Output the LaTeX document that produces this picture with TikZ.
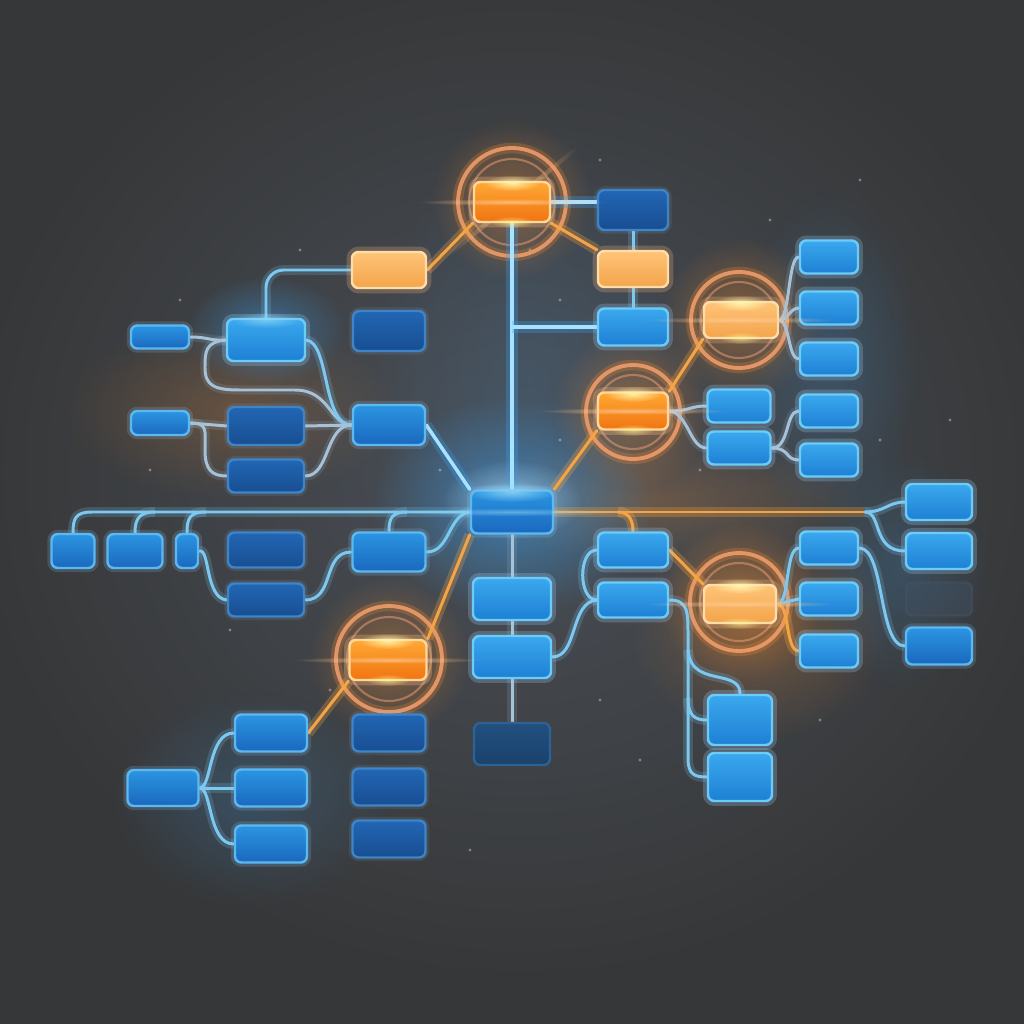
\documentclass[tikz,border=0pt]{standalone}
\usetikzlibrary{fadings,calc}
\definecolor{bgA}{HTML}{363738}
\definecolor{bgB}{HTML}{4A5058}
\definecolor{bT}{HTML}{2B95E2}
\definecolor{bB}{HTML}{1A68BE}
\definecolor{bdB}{HTML}{5CB8F0}
\definecolor{cT}{HTML}{3AA8EE}
\definecolor{cB}{HTML}{1E80D4}
\definecolor{bdC}{HTML}{6CCCF8}
\definecolor{dT}{HTML}{2266B4}
\definecolor{dB}{HTML}{184E92}
\definecolor{bdD}{HTML}{3E84C6}
\definecolor{vT}{HTML}{21507F}
\definecolor{vB}{HTML}{1B416C}
\definecolor{bdV}{HTML}{2F6294}
\definecolor{oT}{HTML}{FFA834}
\definecolor{oB}{HTML}{F07412}
\definecolor{bdO}{HTML}{FFD898}
\definecolor{lT}{HTML}{FFC478}
\definecolor{lB}{HTML}{F3A44A}
\definecolor{bdL}{HTML}{FFDDA8}
\definecolor{lnB}{HTML}{7CC8F0}
\definecolor{lnG}{HTML}{A6C2D8}
\definecolor{lnO}{HTML}{F5A445}
\definecolor{lnW}{HTML}{A8E2FF}
\definecolor{glowB}{HTML}{3AA0F0}
\definecolor{glowO}{HTML}{F08A30}
\definecolor{ringO}{HTML}{F3A070}
\tikzfading[name=fuzzy, inner color=transparent!0, outer color=transparent!100]
\pgfdeclarelayer{bg}
\pgfdeclarelayer{lines}
\pgfdeclarelayer{fx}
\pgfsetlayers{bg,lines,main,fx}
\begin{document}
\begin{tikzpicture}[x=0.1mm,y=-0.1mm,
  box/.style={rectangle, rounded corners=1.8pt, inner sep=0pt, line width=0.7pt},
  blu/.style={box, draw=bdB, top color=bT, bottom color=bB, preaction={draw=glowB!55!white, line width=2.4pt, opacity=0.18}},
  brt/.style={box, draw=bdC, top color=cT, bottom color=cB, preaction={draw=glowB!50!white, line width=2.8pt, opacity=0.25}},
  dk/.style={box, draw=bdD, top color=dT, bottom color=dB, preaction={draw=glowB!50!white, line width=2pt, opacity=0.1}},
  vdk/.style={box, draw=bdV, top color=vT, bottom color=vB},
  fad/.style={box, draw=bgB!80!bdV, top color=bgB!70!vT, bottom color=bgB!80!vB, opacity=0.5},
  org/.style={box, draw=bdO, top color=oT, bottom color=oB, preaction={draw=glowO!60!white, line width=3pt, opacity=0.3}},
  orl/.style={box, draw=bdL, top color=lT, bottom color=lB, preaction={draw=glowO!60!white, line width=3pt, opacity=0.25}},
  ln/.style={draw=lnB, line width=0.85pt, line cap=round, preaction={draw=lnB, line width=2.8pt, opacity=0.2}},
  lg/.style={draw=lnG, line width=0.85pt, line cap=round, preaction={draw=lnG, line width=2.6pt, opacity=0.15}},
  lw/.style={draw=lnW, line width=1pt, line cap=round, preaction={draw=glowB, line width=3.2pt, opacity=0.3}},
  lo/.style={draw=lnO, line width=0.85pt, line cap=round, preaction={draw=lnO, line width=3pt, opacity=0.28}},
  ring/.style={draw=ringO, line width=1.1pt, opacity=0.85, preaction={draw=glowO, line width=3pt, opacity=0.25}},
  iring/.style={draw=ringO, line width=0.6pt, opacity=0.5},
  star/.style={fill=white, opacity=0.35}
]
\useasboundingbox (0,0) rectangle (1024,1024);

% ---------- nodes ----------
\node[org, minimum width=7.6mm, minimum height=4mm] (t) at (512,202) {};
\node[dk, minimum width=7mm, minimum height=4mm] (tr1) at (633,210) {};
\node[orl, minimum width=7mm, minimum height=3.6mm] (o1) at (633,269) {};
\node[brt, minimum width=7mm, minimum height=3.7mm] (b1) at (633,327) {};
\node[orl, minimum width=7.4mm, minimum height=3.6mm] (o2) at (389,270) {};
\node[brt, minimum width=7.8mm, minimum height=4.2mm] (l1) at (266,340) {};
\node[dk, minimum width=7.2mm, minimum height=4mm] (d0) at (389,331) {};
\node[blu, minimum width=5.8mm, minimum height=2.3mm] (l0) at (160,337) {};
\node[blu, minimum width=7.2mm, minimum height=4mm] (m1) at (389,425) {};
\node[blu, minimum width=5.8mm, minimum height=2.4mm] (l2) at (160,423) {};
\node[dk, minimum width=7.6mm, minimum height=3.8mm] (l3) at (266,426) {};
\node[dk, minimum width=7.6mm, minimum height=3.3mm] (l4) at (266,476) {};
\node[blu, minimum width=8.2mm, minimum height=4.3mm] (c) at (512,512) {};
\node[orl, minimum width=7.4mm, minimum height=3.6mm] (o3) at (741,320) {};
\node[org, minimum width=7mm, minimum height=3.7mm] (o4) at (633,411) {};
\node[brt, minimum width=5.8mm, minimum height=3.3mm] (r1) at (829,257) {};
\node[brt, minimum width=5.8mm, minimum height=3.3mm] (r2) at (829,308) {};
\node[brt, minimum width=5.8mm, minimum height=3.3mm] (r3) at (829,359) {};
\node[brt, minimum width=5.8mm, minimum height=3.3mm] (r4) at (829,411) {};
\node[brt, minimum width=5.8mm, minimum height=3.3mm] (r5) at (829,460) {};
\node[brt, minimum width=6.3mm, minimum height=3.3mm] (m2a) at (739,406) {};
\node[brt, minimum width=6.3mm, minimum height=3.3mm] (m2b) at (739,448) {};
\node[blu, minimum width=4.3mm, minimum height=3.4mm] (bl1) at (73,551) {};
\node[blu, minimum width=5.5mm, minimum height=3.4mm] (bl2) at (135,551) {};
\node[blu, minimum width=2.2mm, minimum height=3.4mm] (bl3) at (187,551) {};
\node[dk, minimum width=7.6mm, minimum height=3.5mm] (bl4) at (266,550) {};
\node[dk, minimum width=7.6mm, minimum height=3.3mm] (bl5) at (266,600) {};
\node[blu, minimum width=7.3mm, minimum height=3.9mm] (m3) at (389,552) {};
\node[org, minimum width=7.7mm, minimum height=4mm] (o5) at (388,660) {};
\node[blu, minimum width=7.2mm, minimum height=3.7mm] (bl6) at (271,733) {};
\node[blu, minimum width=7.2mm, minimum height=3.7mm] (bl7) at (271,788) {};
\node[blu, minimum width=7.2mm, minimum height=3.7mm] (bl8) at (271,844) {};
\node[blu, minimum width=7.1mm, minimum height=3.6mm] (bl9) at (163,788) {};
\node[dk, minimum width=7.3mm, minimum height=3.7mm] (d1) at (389,733) {};
\node[dk, minimum width=7.3mm, minimum height=3.7mm] (d2) at (389,787) {};
\node[dk, minimum width=7.3mm, minimum height=3.7mm] (d3) at (389,839) {};
\node[brt, minimum width=7.8mm, minimum height=4.2mm] (c1) at (512,599) {};
\node[brt, minimum width=7.8mm, minimum height=4.2mm] (c2) at (512,657) {};
\node[vdk, minimum width=7.6mm, minimum height=4.2mm] (dc) at (512,744) {};
\node[brt, minimum width=7mm, minimum height=3.5mm] (cr1) at (633,550) {};
\node[brt, minimum width=7mm, minimum height=3.5mm] (cr2) at (633,600) {};
\node[orl, minimum width=7.2mm, minimum height=3.8mm] (o6) at (740,604) {};
\node[brt, minimum width=5.8mm, minimum height=3.3mm] (rc1) at (829,548) {};
\node[brt, minimum width=5.8mm, minimum height=3.3mm] (rc2) at (829,599) {};
\node[brt, minimum width=5.8mm, minimum height=3.3mm] (rc3) at (829,651) {};
\node[brt, minimum width=6.6mm, minimum height=3.6mm] (rr1) at (939,502) {};
\node[brt, minimum width=6.6mm, minimum height=3.6mm] (rr2) at (939,551) {};
\node[fad, minimum width=6.6mm, minimum height=3.3mm] (rr3) at (939,599) {};
\node[blu, minimum width=6.6mm, minimum height=3.7mm] (rr4) at (939,646) {};
\node[brt, minimum width=6.4mm, minimum height=5mm] (bra) at (740,720) {};
\node[brt, minimum width=6.4mm, minimum height=4.8mm] (brb) at (740,777) {};

% ---------- background and glows ----------
\begin{pgfonlayer}{bg}
\fill[bgA] (0,0) rectangle (1024,1024);
\fill[bgB, path fading=fuzzy] (520,470) ellipse (560 and 520);
\fill[bgB!70!glowB, opacity=0.35, path fading=fuzzy] (530,380) ellipse (160 and 260);
\fill[glowO, opacity=0.22, path fading=fuzzy] (230,410) ellipse (170 and 90);
\fill[glowO, opacity=0.22, path fading=fuzzy] (650,500) ellipse (220 and 60);
\fill[glowO, opacity=0.28, path fading=fuzzy] (760,630) ellipse (130 and 110);
\fill[glowB, opacity=0.2, path fading=fuzzy] (830,360) ellipse (90 and 170);
\fill[glowB, opacity=0.18, path fading=fuzzy] (900,570) ellipse (90 and 120);
\fill[glowB, opacity=0.2, path fading=fuzzy] (250,800) ellipse (140 and 110);
\fill[glowB, opacity=0.55, path fading=fuzzy] (512,505) ellipse (140 and 110);
\fill[glowB!40!white, opacity=0.6, path fading=fuzzy] (512,500) ellipse (70 and 40);
\fill[glowB, opacity=0.45, path fading=fuzzy] (266,330) ellipse (80 and 55);
\foreach \q in {(512,200),(741,318),(633,410),(389,658),(739,602)}
  \fill[glowO, opacity=0.4, path fading=fuzzy] \q circle (80);
\fill[white!50!orange, opacity=0.55, path fading=fuzzy, rotate around={40:(512,202)}] (512,202) ellipse (120 and 2.5);
\foreach \q in {(530,250),(600,160),(770,220),(860,180),(420,330),(300,250),(150,470),(440,470),(560,440),(700,470),(880,440),(950,420),(600,700),(640,760),(330,690),(470,850),(820,720),(180,300),(230,630),(560,300)}
  \fill[star] \q circle (1.6);
\end{pgfonlayer}

% ---------- connectors and rings ----------
\begin{pgfonlayer}{lines}
% rings
\draw[ring] (512,202) circle (54);  \draw[iring] (512,202) circle (43);
\draw[ring] (739,320) circle (48);  \draw[iring] (739,320) circle (38);
\draw[ring] (633,412) circle (47);  \draw[iring] (633,412) circle (37);
\draw[ring] (389,659) circle (53);  \draw[iring] (389,659) circle (42);
\draw[ring] (739,602) circle (49);  \draw[iring] (739,602) circle (39);
% top part
\draw[lw] (t.south) -- (c.north);
\draw[lw] (t.south |- b1.west) -- (b1.west);
\draw[lw] (t.east) -- (t.east -| tr1.west);
\draw[ln] (tr1.south) -- (o1.north);
\draw[ln] (o1.south) -- (b1.north);
\draw[lo] (t.south east) -- (o1.north west);
\draw[lo] (t.south west) -- (o2.east);
\draw[ln, rounded corners=5pt] (o2.west) -| (l1.north);
\draw[lg] (l0.east) .. controls (208,337) and (210,341) .. (l1.west);
\draw[lg] (l1.west) .. controls (205,342) and (205,352) .. (205,368) .. controls (205,386) and (215,390) .. (240,390) -- (295,390) .. controls (330,390) and (330,425) .. (m1.west);
\draw[ln] (l1.east) .. controls (330,343) and (322,425) .. (m1.west);
\draw[lg] (l2.east) -- (l3.west);
\draw[lg] (l3.east) -- (m1.west);
\draw[lg] (l2.east) .. controls (208,423) and (205,430) .. (205,450) .. controls (205,470) and (212,476) .. (l4.west);
\draw[lg] (l4.east) .. controls (330,476) and (325,425) .. (m1.west);
\draw[lw] (m1.east) -- (c.north west);
% upper right
\draw[lo] (c.north east) -- (o4.south west);
\draw[lo] (o4.north east) -- (o3.south west);
\draw[lg] (o3.east) .. controls (790,318) and (788,257) .. (r1.west);
\draw[lg] (o3.east) .. controls (788,320) and (790,308) .. (r2.west);
\draw[lg] (o3.east) .. controls (790,322) and (788,359) .. (r3.west);
\draw[lg] (o4.east) .. controls (690,411) and (690,406) .. (m2a.west);
\draw[lg] (o4.east) .. controls (688,413) and (690,448) .. (m2b.west);
\draw[lg] (m2b.east) .. controls (790,448) and (785,411) .. (r4.west);
\draw[lg] (m2b.east) .. controls (790,448) and (785,460) .. (r5.west);
% lower left
\draw[ln] (c.west) -- (92,512) .. controls (76,512) and (73,518) .. (bl1.north);
\draw[ln] (155,512) .. controls (140,512) and (135,518) .. (bl2.north);
\draw[ln] (206,512) .. controls (190,512) and (187,518) .. (bl3.north);
\draw[ln] (407,512) .. controls (392,512) and (389,518) .. (m3.north);
\draw[ln] (bl3.east) .. controls (210,548) and (205,598) .. (bl5.west);
\draw[ln] (bl5.east) .. controls (335,600) and (322,552) .. (m3.west);
\draw[ln] (m3.east) .. controls (450,552) and (448,515) .. (c.west);
\draw[lo] (c.south west) -- (o5.north east);
\draw[lo] (o5.south west) -- (bl6.east);
\draw[ln] (bl9.east) .. controls (212,788) and (208,733) .. (bl6.west);
\draw[ln] (bl9.east) -- (bl7.west);
\draw[ln] (bl9.east) .. controls (212,788) and (208,844) .. (bl8.west);
% centre column
\draw[lg] (c.south) -- (c1.north);
\draw[lg] (c1.south) -- (c2.north);
\draw[lg] (c2.south) -- (dc.north);
\draw[ln] (c2.east) .. controls (578,657) and (570,602) .. (cr2.west);
\draw[ln] (cr1.west) .. controls (578,550) and (578,600) .. (cr2.west);
% right of centre
\draw[lo] (c.east) -- (865,512);
\draw[ln] (865,512) .. controls (885,512) and (888,502) .. (rr1.west);
\draw[ln] (865,512) .. controls (882,512) and (872,551) .. (rr2.west);
\draw[lo] (618,512) .. controls (630,512) and (633,522) .. (cr1.north);
\draw[lo] (cr1.east) -- (o6.north west);
\draw[ln] (o6.east) .. controls (790,604) and (785,548) .. (rc1.west);
\draw[ln] (o6.east) -- (rc2.west);
\draw[lo] (o6.east) .. controls (790,604) and (785,651) .. (rc3.west);
\draw[ln] (rc1.east) .. controls (885,548) and (878,646) .. (rr4.west);
% bottom right
\draw[ln] (cr2.east) .. controls (688,600) and (688,612) .. (688,635) -- (688,758) .. controls (688,775) and (695,777) .. (brb.west);
\draw[ln] (688,698) .. controls (688,716) and (695,720) .. (bra.west);
\draw[ln] (688,650) .. controls (690,672) and (705,674) .. (722,678) .. controls (736,681) and (740,686) .. (bra.north);
\end{pgfonlayer}

% ---------- flares ----------
\begin{pgfonlayer}{fx}
\foreach \x/\y in {512/202, 741/320, 633/411, 388/660, 740/604}{
  \fill[white!60!orange, opacity=0.7, path fading=fuzzy] (\x,\y) ellipse (95 and 3.5);
}
\foreach \x/\y in {512/183, 741/303, 633/394, 388/641, 740/586}{
  \fill[yellow!30!white, opacity=0.85, path fading=fuzzy] (\x,\y) ellipse (28 and 8);
}
\foreach \x/\y in {512/222, 741/338, 633/430, 388/680, 740/623}{
  \fill[yellow!40!white, opacity=0.6, path fading=fuzzy] (\x,\y) ellipse (22 and 6);
}
\fill[white!60!cyan, opacity=0.75, path fading=fuzzy] (512,492) ellipse (45 and 10);
\fill[white!60!cyan, opacity=0.5, path fading=fuzzy] (512,512) ellipse (110 and 4);
\fill[white!60!cyan, opacity=0.6, path fading=fuzzy] (266,320) ellipse (35 and 8);
\end{pgfonlayer}
\end{tikzpicture}
\end{document}
